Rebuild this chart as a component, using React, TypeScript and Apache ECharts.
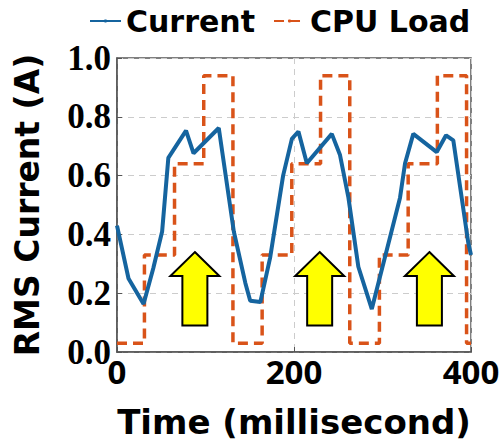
import React, { useEffect, useRef } from "react";
import * as echarts from "echarts";

const currentTimes = [0, 13, 30, 41, 51, 58, 78, 86.5, 115, 132, 145, 150.5, 162, 173, 187.7, 197.6, 205, 214.5, 242.7, 252, 261.5, 272.7, 287.9, 308.5, 319.8, 325.5, 334.8, 361.3, 371.8, 380, 397, 400];
const currentValues = [0.43, 0.25, 0.163, 0.285, 0.41, 0.66, 0.753, 0.676, 0.762, 0.41, 0.235, 0.174, 0.17, 0.32, 0.6, 0.725, 0.75, 0.642, 0.742, 0.67, 0.525, 0.29, 0.146, 0.39, 0.525, 0.642, 0.742, 0.68, 0.737, 0.72, 0.37, 0.33];

const cpuTimes = [0, 31, 65, 98, 131, 164, 197.5, 230, 263, 296.5, 329, 362, 395, 400];
const cpuLevels = [0.03, 0.33, 0.64, 0.94, 0.03, 0.33, 0.64, 0.94, 0.03, 0.33, 0.64, 0.94, 0.03, 0.03];

const arrowTimes = [88, 229, 353];
const arrowBottom = 0.09;
const arrowTip = 0.34;

const xTicks = [0, 200, 400];
const yTicks = [0, 0.2, 0.4, 0.6, 0.8, 1.0];

export default function App() {
  const ref = useRef<HTMLDivElement>(null);
  useEffect(() => {
    if (!ref.current) return;
    const chart = echarts.init(ref.current, null, { renderer: "svg" });
    const sans = "'Open Sans', Lato, sans-serif";
    const wide = "'DejaVu Sans', 'Open Sans', sans-serif";
    const serif = "'Liberation Serif', 'DejaVu Serif', serif";
    chart.setOption({
      animation: false,
      backgroundColor: "#ffffff",
      grid: {
        left: 117,
        right: 32,
        top: 58,
        bottom: 87,
        show: true,
        borderColor: "#555",
        borderWidth: 1.5,
      },
      legend: {
        data: ["Current", "CPU Load"],
        top: 6,
        left: 89,
        padding: 0,
        itemWidth: 31,
        itemHeight: 4,
        itemGap: 18,
        textStyle: { fontFamily: wide, fontWeight: "bold", fontSize: 30, color: "#000" },
      },
      xAxis: {
        type: "value",
        min: 0,
        max: 400,
        interval: 200,
        name: "Time (millisecond)",
        nameLocation: "middle",
        nameGap: 53,
        nameTextStyle: { fontFamily: wide, fontWeight: "bold", fontSize: 34, color: "#000" },
        axisLine: { show: true, lineStyle: { color: "#555", width: 1.5 } },
        axisTick: { show: true, inside: true, length: 5, lineStyle: { color: "#555" } },
        axisLabel: {
          fontFamily: sans,
          fontWeight: "bold",
          fontSize: 33,
          color: "#000",
          margin: 3,
          formatter: (v: number) => (xTicks.includes(v) ? String(v) : ""),
        },
        splitLine: { show: true, lineStyle: { color: "#ccc", type: [6, 5], width: 1 } },
      },
      yAxis: {
        type: "value",
        min: 0,
        max: 1,
        interval: 0.2,
        name: "RMS Current (A)",
        nameLocation: "middle",
        nameGap: 73,
        nameTextStyle: { fontFamily: wide, fontWeight: "bold", fontSize: 33, color: "#000" },
        axisLine: { show: true, lineStyle: { color: "#555", width: 1.5 } },
        axisTick: { show: true, inside: true, length: 5, lineStyle: { color: "#555" } },
        axisLabel: {
          fontFamily: serif,
          fontWeight: "bold",
          fontSize: 35,
          color: "#000",
          margin: 6,
          formatter: (v: number) => {
            const t = yTicks.find((y) => Math.abs(y - v) < 1e-6);
            return t === undefined ? "" : t.toFixed(1);
          },
        },
        splitLine: { show: true, lineStyle: { color: "#ccc", type: [6, 5], width: 1 } },
      },
      series: [
        {
          name: "Current",
          type: "line",
          data: currentTimes.map((t, i) => [t, currentValues[i]]),
          symbol: "none",
          lineStyle: { color: "#15649f", width: 4 },
          itemStyle: { color: "#15649f" },
          z: 3,
        },
        {
          name: "CPU Load",
          type: "line",
          step: "end",
          data: cpuTimes.map((t, i) => [t, cpuLevels[i]]),
          symbol: "none",
          lineStyle: { color: "#D95319", width: 3.5, type: [10, 6] },
          itemStyle: { color: "#D95319" },
          z: 2,
        },
        {
          name: "arrows",
          type: "custom",
          data: arrowTimes.map((t) => [t, arrowBottom, arrowTip]),
          z: 4,
          renderItem: (params: any, api: any) => {
            const t = api.value(0);
            const base = api.coord([t, api.value(1)]);
            const tip = api.coord([t, api.value(2)]);
            const cx = tip[0];
            const headH = 24;
            const headW = 24.5;
            const shaftW = 12.5;
            const hb = tip[1] + headH;
            const points = [
              [cx, tip[1]],
              [cx + headW, hb],
              [cx + shaftW, hb],
              [cx + shaftW, base[1]],
              [cx - shaftW, base[1]],
              [cx - shaftW, hb],
              [cx - headW, hb],
            ];
            return {
              type: "polygon",
              shape: { points },
              style: { fill: "#ffff00", stroke: "#000", lineWidth: 2 },
            };
          },
        },
      ],
    });
    return () => chart.dispose();
  }, []);
  return (
    <div
      ref={ref}
      style={{ position: "absolute", left: 0, top: 0, width: 503, height: 444 }}
    />
  );
}
